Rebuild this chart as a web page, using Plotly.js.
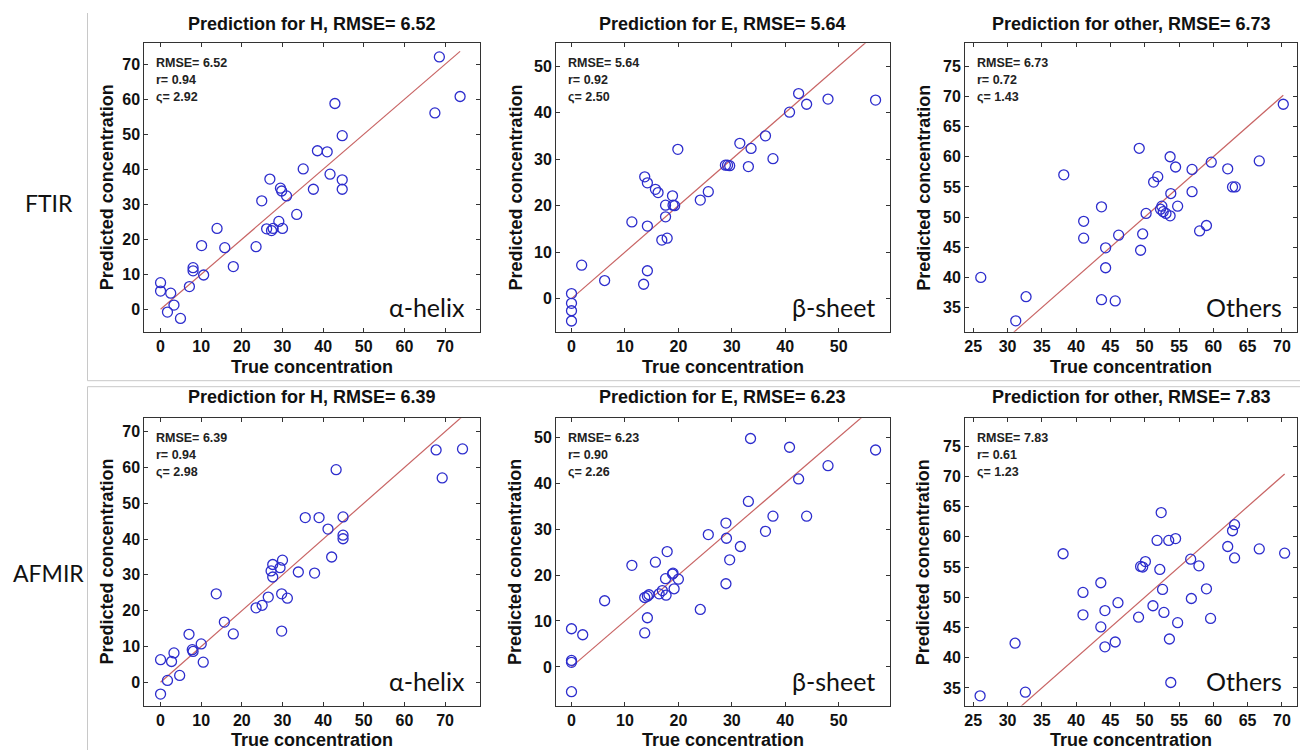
<!DOCTYPE html>
<html>
<head>
<meta charset="utf-8">
<script src="https://cdn.plot.ly/plotly-3.0.1.min.js"></script>
<style>html,body{margin:0;padding:0;background:#fff;}#chart{width:1300px;height:750px;}</style>
</head>
<body>
<div id="chart"></div>
<script>
// ---------- DATA ----------
const rowLabels = ["FTIR", "AFMIR"];
const structureLabels = ["\u03b1-helix", "\u03b2-sheet", "Others"];
const titleNames = ["H", "E", "other"];
const rmseValues = [[6.52, 5.64, 6.73], [6.39, 6.23, 7.83]];
const rValues = [[0.94, 0.92, 0.72], [0.94, 0.90, 0.61]];
const sigmaValues = [[2.92, 2.50, 1.43], [2.98, 2.26, 1.23]];

const ftirHx = [0, 0, 2.5, 3.3, 1.7, 4.9, 7.1, 8.0, 8.0, 10.6, 10.1, 13.9, 15.8, 17.9, 23.5, 24.9, 26.1, 27.3, 27.7, 26.9, 29.1, 30.0, 29.5, 29.8, 31.0, 33.5, 35.1, 37.6, 38.6, 41.0, 41.7, 42.9, 44.7, 44.7, 44.7, 67.5, 68.6, 73.7];
const ftirHy = [7.6, 5.2, 4.6, 1.2, -0.8, -2.6, 6.5, 11.9, 11.0, 9.8, 18.2, 23.1, 17.6, 12.2, 17.9, 31.0, 23.0, 22.5, 23.1, 37.2, 25.1, 23.1, 34.6, 33.8, 32.4, 27.1, 40.1, 34.3, 45.3, 45.0, 38.6, 58.8, 49.6, 37.0, 34.3, 56.1, 72.1, 60.8];

const ftirEx = [0, 0, 0, 0, 1.9, 6.2, 11.3, 13.5, 14.2, 14.2, 13.7, 14.2, 15.7, 16.2, 16.9, 17.9, 17.6, 17.6, 18.9, 19.0, 19.3, 19.9, 24.1, 25.6, 28.8, 29.2, 29.6, 31.5, 33.1, 33.6, 36.3, 37.7, 40.8, 42.5, 44.0, 48.0, 56.9];
const ftirEy = [1.1, -1.0, -2.6, -4.8, 7.2, 3.9, 16.5, 3.1, 6.0, 15.6, 26.2, 24.9, 23.5, 22.8, 12.6, 13.0, 17.6, 20.1, 22.1, 20.1, 20.0, 32.1, 21.2, 23.0, 28.7, 28.7, 28.6, 33.4, 28.4, 32.3, 35.0, 30.1, 40.1, 44.1, 41.8, 42.9, 42.7];

const ftirOx = [26.1, 31.2, 32.7, 38.2, 41.1, 41.1, 43.7, 43.7, 44.3, 44.3, 45.7, 46.2, 49.2, 49.4, 49.7, 50.2, 51.3, 51.9, 52.3, 52.5, 52.7, 53.1, 53.7, 53.7, 53.8, 54.5, 54.8, 56.9, 56.9, 58.0, 59.0, 59.7, 62.1, 62.8, 63.2, 66.7, 70.2];
const ftirOy = [40.0, 32.8, 36.8, 57.0, 49.3, 46.5, 51.7, 36.3, 44.9, 41.6, 36.1, 47.0, 61.4, 44.5, 47.2, 50.6, 55.8, 56.7, 51.3, 51.8, 50.9, 50.6, 50.2, 60.0, 53.9, 58.3, 51.8, 57.9, 54.2, 47.7, 48.6, 59.1, 58.0, 55.0, 55.0, 59.3, 68.7];

const afmirHx = [0, 0, 1.7, 2.7, 3.3, 4.7, 7.0, 7.8, 8.0, 10.0, 10.5, 13.7, 15.7, 17.9, 23.5, 25.0, 26.5, 27.2, 27.6, 27.6, 29.4, 30.0, 29.8, 31.2, 29.8, 33.9, 37.9, 35.6, 39.0, 41.2, 42.1, 43.2, 44.9, 44.9, 44.9, 67.8, 69.3, 74.3];
const afmirHy = [6.3, -3.3, 0.5, 5.8, 8.2, 1.9, 13.4, 9.1, 8.6, 10.7, 5.6, 24.7, 16.8, 13.5, 20.8, 21.5, 23.8, 31.1, 32.9, 29.4, 32.0, 34.1, 24.7, 23.5, 14.3, 30.8, 30.5, 46.0, 46.0, 42.8, 35.0, 59.4, 46.2, 41.1, 40.1, 64.9, 57.1, 65.2];

const afmirEx = [0, 0, 0, 0, 2.1, 6.2, 11.3, 13.7, 13.7, 14.2, 14.5, 14.2, 15.7, 16.4, 17.0, 17.7, 17.9, 17.6, 18.9, 19.0, 19.2, 20.0, 24.1, 25.6, 28.9, 29.0, 28.9, 29.6, 31.6, 33.1, 33.5, 36.3, 37.7, 40.8, 42.5, 44.0, 48.0, 56.9];
const afmirEy = [8.3, 1.4, 1.0, -5.4, 7.0, 14.4, 22.1, 7.4, 15.1, 15.4, 15.7, 10.7, 22.8, 15.9, 16.6, 15.6, 25.1, 19.2, 20.2, 20.4, 17.0, 19.1, 12.5, 28.8, 31.3, 28.0, 18.1, 23.3, 26.2, 36.0, 49.7, 29.5, 32.8, 47.8, 40.9, 32.8, 43.8, 47.2];

const afmirOx = [26.0, 31.1, 32.6, 38.1, 41.0, 41.0, 43.6, 43.6, 44.2, 44.2, 45.7, 46.1, 49.1, 49.4, 49.7, 50.1, 51.2, 51.8, 52.2, 52.4, 52.6, 52.8, 53.5, 53.6, 53.8, 54.5, 54.8, 56.7, 56.8, 57.9, 59.0, 59.6, 62.1, 62.8, 63.1, 63.1, 66.7, 70.4];
const afmirOy = [33.7, 42.4, 34.3, 57.2, 50.8, 47.1, 52.4, 45.1, 47.8, 41.8, 42.6, 49.1, 46.7, 55.1, 55.0, 55.9, 48.6, 59.4, 54.6, 64.0, 51.3, 47.5, 59.4, 43.1, 35.9, 59.7, 45.8, 56.3, 49.8, 55.2, 51.4, 46.5, 58.4, 61.0, 62.0, 56.5, 58.0, 57.3];

const xTickStep = [10, 10, 5];
const yTickStep = [10, 10, 5];
const xRanges = [[[-4, 78.6], [-2.9, 59.6], [23.8, 72.2]], [[-4, 78.6], [-2.9, 59.6], [23.8, 72.2]]];
const yRanges = [[[-6.4, 76], [-7.1, 54.9], [31, 78.8]], [[-6.5, 73.75], [-8.4, 54.1], [32.1, 79.6]]];

const seriesX = [[ftirHx, ftirEx, ftirOx], [afmirHx, afmirEx, afmirOx]];
const seriesY = [[ftirHy, ftirEy, ftirOy], [afmirHy, afmirEy, afmirOy]];

// ---------- LAYOUT GEOMETRY (pixels) ----------
const W = 1300, H = 750;
const colBox = [[144.3, 480], [556, 890], [965, 1297]];
const rowBox = [[43.3, 331.7], [418.3, 705.5]];
const titleY = [24, 396.7];
const xTitleY = [366.7, 740];
const yTitleX = [106.7, 515, 923.3];
const rowLabelPos = [[48.8, 203], [48.3, 573]];

const px = v => v / W;
const py = v => 1 - v / H;

const FONT = "Liberation Sans, Arial, sans-serif";
const traces = [];
const annotations = [];
const shapes = [];
const layout = {
  width: W, height: H,
  margin: {l: 0, r: 0, t: 0, b: 0},
  paper_bgcolor: "#fff", plot_bgcolor: "#fff",
  showlegend: false,
  font: {family: FONT, color: "#000"}
};

let idx = 0;
for (let r = 0; r < 2; r++) {
  for (let c = 0; c < 3; c++) {
    idx++;
    const xa = "xaxis" + (idx === 1 ? "" : idx);
    const ya = "yaxis" + (idx === 1 ? "" : idx);
    const xr = "x" + (idx === 1 ? "" : idx);
    const yr = "y" + (idx === 1 ? "" : idx);
    const axCommon = {
      showgrid: false, zeroline: false, showline: true, linecolor: "#333", linewidth: 1,
      mirror: "allticks", ticks: "inside", ticklen: 4, tickcolor: "#333",
      tickfont: {family: FONT, size: 16, color: "#111", weight: "bold"},
      fixedrange: true
    };
    layout[xa] = Object.assign({}, axCommon, {
      domain: [px(colBox[c][0]), px(colBox[c][1])],
      range: xRanges[r][c], dtick: xTickStep[c], tick0: 0,
      anchor: yr
    });
    layout[ya] = Object.assign({}, axCommon, {
      domain: [py(rowBox[r][1]), py(rowBox[r][0])],
      range: yRanges[r][c], dtick: yTickStep[c], tick0: 0,
      anchor: xr
    });

    const xs = seriesX[r][c], ys = seriesY[r][c];
    const lo = Math.min(...xs), hi = Math.max(...xs);
    traces.push({
      type: "scatter", mode: "lines", x: [lo, hi], y: [lo, hi],
      xaxis: xr, yaxis: yr, line: {color: "rgb(200,100,100)", width: 1.2},
      hoverinfo: "skip"
    });
    traces.push({
      type: "scatter", mode: "markers", x: xs, y: ys, xaxis: xr, yaxis: yr,
      marker: {symbol: "circle-open", size: 10, color: "rgb(45,45,205)", line: {width: 1.3, color: "rgb(45,45,205)"}},
      cliponaxis: false
    });

    const cx = (colBox[c][0] + colBox[c][1]) / 2;
    annotations.push({
      xref: "paper", yref: "paper", x: px(cx), y: py(titleY[r]),
      xanchor: "center", yanchor: "middle", showarrow: false,
      text: "Prediction for " + titleNames[c] + ", RMSE= " + rmseValues[r][c].toFixed(2),
      font: {family: FONT, size: 18, color: "#111", weight: "bold"}
    });
    annotations.push({
      xref: "paper", yref: "paper", x: px(cx), y: py(xTitleY[r]),
      xanchor: "center", yanchor: "middle", showarrow: false,
      text: "True concentration",
      font: {family: FONT, size: 18, color: "#111", weight: "bold"}
    });
    annotations.push({
      xref: "paper", yref: "paper", x: px(yTitleX[c]), y: py((rowBox[r][0] + rowBox[r][1]) / 2),
      xanchor: "center", yanchor: "middle", showarrow: false, textangle: -90,
      text: "Predicted concentration",
      font: {family: FONT, size: 18, color: "#111", weight: "bold"}
    });
    const statLines = [
      "RMSE= " + rmseValues[r][c].toFixed(2),
      "r= " + rValues[r][c].toFixed(2),
      "\u03c2= " + sigmaValues[r][c].toFixed(2)
    ];
    const offs = [20, 37, 54];
    statLines.forEach((t, k) => {
      annotations.push({
        xref: "paper", yref: "paper", x: px(colBox[c][0] + 10), y: py(rowBox[r][0] + offs[k]),
        xanchor: "left", yanchor: "middle", showarrow: false, text: t,
        font: {family: FONT, size: 12.5, color: "#222", weight: "bold"}
      });
    });
    annotations.push({
      xref: "paper", yref: "paper", x: px(colBox[c][1] - 13), y: py(rowBox[r][1] - 25),
      xanchor: "right", yanchor: "middle", showarrow: false, text: structureLabels[c],
      font: {family: "Lato, Open Sans, sans-serif", size: 25, color: "#111"}
    });
  }
}

rowLabels.forEach((t, r) => {
  annotations.push({
    xref: "paper", yref: "paper", x: px(rowLabelPos[r][0]), y: py(rowLabelPos[r][1]),
    xanchor: "center", yanchor: "middle", showarrow: false, text: t,
    font: {family: "Lato, Open Sans, sans-serif", size: 23, color: "#111"}
  });
});

const sepColor = "#c8c8c8";
[[87.5, 13, 87.5, 380.7], [87.5, 380.7, 1300, 380.7], [87.5, 386.7, 1300, 386.7], [87.5, 386.7, 87.5, 750]].forEach(s => {
  shapes.push({type: "line", xref: "paper", yref: "paper", x0: px(s[0]), y0: py(s[1]), x1: px(s[2]), y1: py(s[3]), line: {color: sepColor, width: 1}});
});

layout.annotations = annotations;
layout.shapes = shapes;

Plotly.newPlot("chart", traces, layout, {displayModeBar: false, staticPlot: true});
</script>
</body>
</html>
